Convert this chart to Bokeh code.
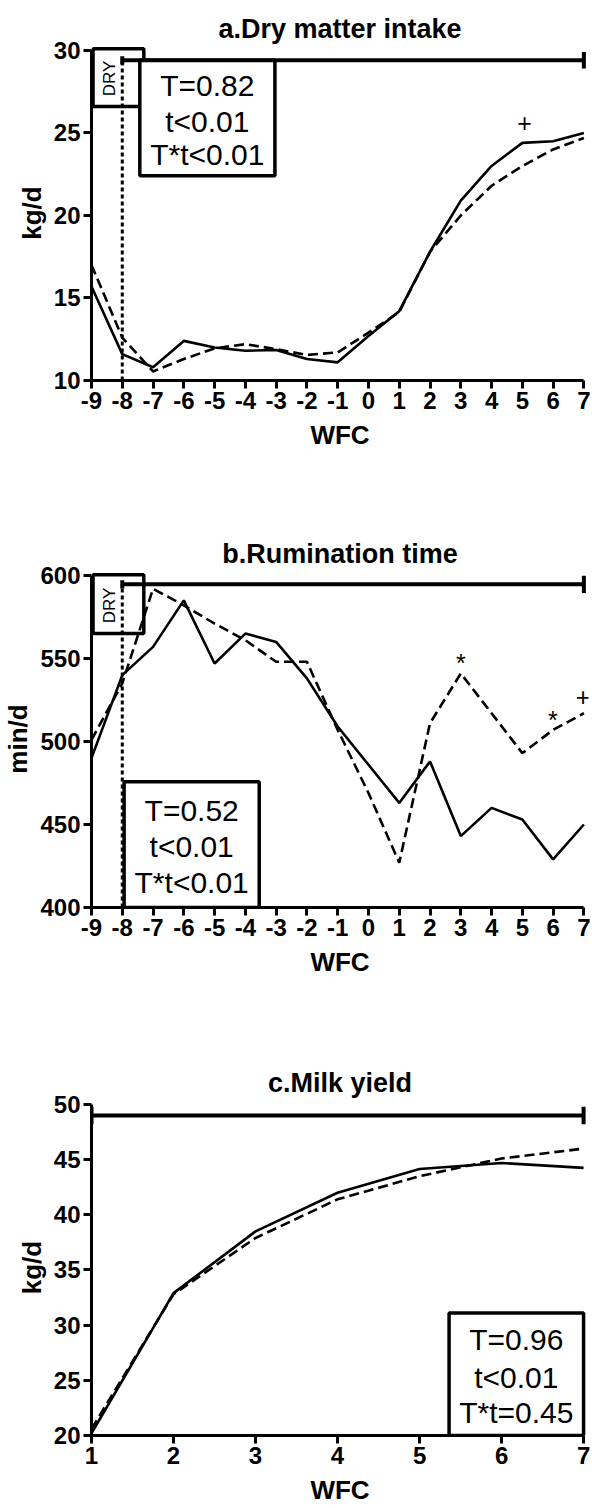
from bokeh.plotting import figure
from bokeh.layouts import column
from bokeh.models import Range1d, FixedTicker, Label
from bokeh.embed import file_html
from bokeh.resources import INLINE

# ---------------- data ----------------
wfc_ab = [-9, -8, -7, -6, -5, -4, -3, -2, -1, 0, 1, 2, 3, 4, 5, 6, 7]
dmi_solid = [15.7, 11.6, 10.8, 12.4, 12.0, 11.8, 11.85, 11.3, 11.1, 12.7, 14.2, 17.8, 20.9, 23.0, 24.4, 24.5, 25.0]
dmi_dashed = [17.0, 12.6, 10.55, 11.3, 11.95, 12.2, 11.9, 11.55, 11.7, 12.9, 14.15, 17.8, 20.0, 21.8, 23.0, 24.0, 24.7]

rum_solid = [490, 540, 557, 585, 547, 565, 560, 538, 509, 486, 463, 488, 443, 460, 453, 429, 450]
rum_dashed = [501, 535, 592, 582, 571, 561, 548, 548, 507, 469, 427, 511, 541, 517, 493, 507, 517]

wfc_c = [1, 2, 3, 4, 5, 6, 7]
milk_solid = [20.2, 32.9, 38.5, 42.0, 44.15, 44.7, 44.25]
milk_dashed = [20.6, 32.8, 37.9, 41.4, 43.5, 45.1, 46.0]

ticks_ab = list(range(-9, 8))
ticks_c = list(range(1, 8))
yticks_a = [10, 15, 20, 25, 30]
yticks_b = [400, 450, 500, 550, 600]
yticks_c = [20, 25, 30, 35, 40, 45, 50]

FONT = "Liberation Sans"


def base_fig(title, height, xr, yr, xb, yb, xt, yt, ylab, top, bottom):
    p = figure(width=592, height=height, x_range=Range1d(*xr), y_range=Range1d(*yr),
               output_backend="svg", toolbar_location=None,
               min_border_left=87, min_border_right=4,
               min_border_top=top, min_border_bottom=bottom)
    p.title.text = title
    p.title.align = "center"
    p.title.text_font = FONT
    p.title.text_font_size = "27px"
    p.title.text_font_style = "bold"
    p.title.text_color = "black"
    p.title.standoff = 3
    p.outline_line_color = None
    p.xgrid.visible = False
    p.ygrid.visible = False
    for ax, b, t in ((p.xaxis[0], xb, xt), (p.yaxis[0], yb, yt)):
        ax.bounds = b
        ax.ticker = FixedTicker(ticks=t)
        ax.major_label_overrides = {v: str(v) for v in t}
        ax.axis_line_width = 3
        ax.major_tick_line_width = 3
        ax.major_tick_out = 8
        ax.major_tick_in = 0
        ax.minor_tick_line_color = None
        ax.major_label_text_font = FONT
        ax.major_label_text_font_style = "bold"
        ax.major_label_text_font_size = "24px"
        ax.major_label_text_color = "black"
        ax.axis_label_text_font = FONT
        ax.axis_label_text_font_style = "bold"
        ax.axis_label_text_font_size = "26px"
        ax.axis_label_text_color = "black"
        ax.major_label_standoff = 3
    p.xaxis.axis_label = "WFC"
    p.yaxis.axis_label = ylab
    p.xaxis.axis_label_standoff = 8
    p.yaxis.axis_label_standoff = 4
    return p


def stats_box(p, l, r, b, t, lines, ys):
    p.quad(left=[l], right=[r], bottom=[b], top=[t], fill_color="white",
           line_color="black", line_width=3.5)
    xc = (l + r) / 2
    for s, y in zip(lines, ys):
        p.add_layout(Label(x=xc, y=y, text=s, text_align="center", text_baseline="middle",
                           text_font=FONT, text_font_size="30px", text_color="black"))


def mark(p, x, y, s, size="25px"):
    p.add_layout(Label(x=x, y=y, text=s, text_align="center", text_baseline="middle",
                       text_font=FONT, text_font_size=size, text_color="black"))


def dry(p, y):
    p.add_layout(Label(x=-8.42, y=y, text="DRY", angle=1.5708, text_align="center",
                       text_baseline="middle", text_font=FONT, text_font_size="17px",
                       text_color="black"))


# ---------------- panel a ----------------
pa = base_fig("a.Dry matter intake", 500, (-9, 7.15), (10, 30.3), (-9, 7), (10, 30),
              ticks_ab, yticks_a, "kg/d", 45, 120)
pa.line([-8, -8], [10, 29.4], line_color="black", line_width=3, line_dash="4 3")
pa.quad(left=[-8.95], right=[-7.3], bottom=[26.6], top=[30.1], fill_color=None,
        line_color="black", line_width=3.5)
dry(pa, 28.3)
stats_box(pa, -7.43, -3.04, 22.4, 29.4, ["T=0.82", "t<0.01", "T*t<0.01"], [27.85, 25.7, 23.7])
pa.line([-8, 7], [29.4, 29.4], line_color="black", line_width=4)
pa.segment(x0=[7, -8], y0=[28.9, 29.15], x1=[7, -8], y1=[29.9, 29.65], line_color="black", line_width=4)
pa.line(wfc_ab, dmi_solid, line_color="black", line_width=2.6)
pa.line(wfc_ab, dmi_dashed, line_color="black", line_width=2.6, line_dash="10 5")
mark(pa, 5.07, 25.6, "+")

# ---------------- panel b ----------------
pb = base_fig("b.Rumination time", 510, (-9, 7.15), (400, 603), (-9, 7), (400, 600),
              ticks_ab, yticks_b, "min/d", 70, 103)
pb.line([-8, -8], [400, 594.7], line_color="black", line_width=3, line_dash="4 3")
pb.quad(left=[-8.95], right=[-7.3], bottom=[565], top=[600.5], fill_color=None,
        line_color="black", line_width=3.5)
dry(pb, 582)
pb.line(wfc_ab, rum_solid, line_color="black", line_width=2.6)
pb.line(wfc_ab, rum_dashed, line_color="black", line_width=2.6, line_dash="10 5")
stats_box(pb, -7.94, -3.55, 400, 475.7, ["T=0.52", "t<0.01", "T*t<0.01"], [458.7, 436.8, 415])
pb.line([-8, 7], [594.7, 594.7], line_color="black", line_width=4)
pb.segment(x0=[7, -8], y0=[589.5, 592.2], x1=[7, -8], y1=[599.9, 597.2], line_color="black", line_width=4)
mark(pb, 3, 547, "*")
mark(pb, 5.99, 513, "*")
mark(pb, 6.97, 527, "+")

# ---------------- panel c ----------------
pc = base_fig("c.Milk yield", 498, (1, 7.06), (20, 50.45), (1, 7), (20, 50),
              ticks_c, yticks_c, "kg/d", 89, 73)
pc.line([1, 7], [49, 49], line_color="black", line_width=4)
pc.segment(x0=[1, 7], y0=[48.2, 48.2], x1=[1, 7], y1=[49.8, 49.8], line_color="black", line_width=4)
pc.line(wfc_c, milk_solid, line_color="black", line_width=2.6)
pc.line(wfc_c, milk_dashed, line_color="black", line_width=2.6, line_dash="10 5")
stats_box(pc, 5.36, 7.0, 20, 31.1, ["T=0.96", "t<0.01", "T*t=0.45"], [28.7, 25.3, 22.1])

layout = column(pa, pb, pc, spacing=0)
open("out.html", "w").write(file_html(layout, INLINE))
